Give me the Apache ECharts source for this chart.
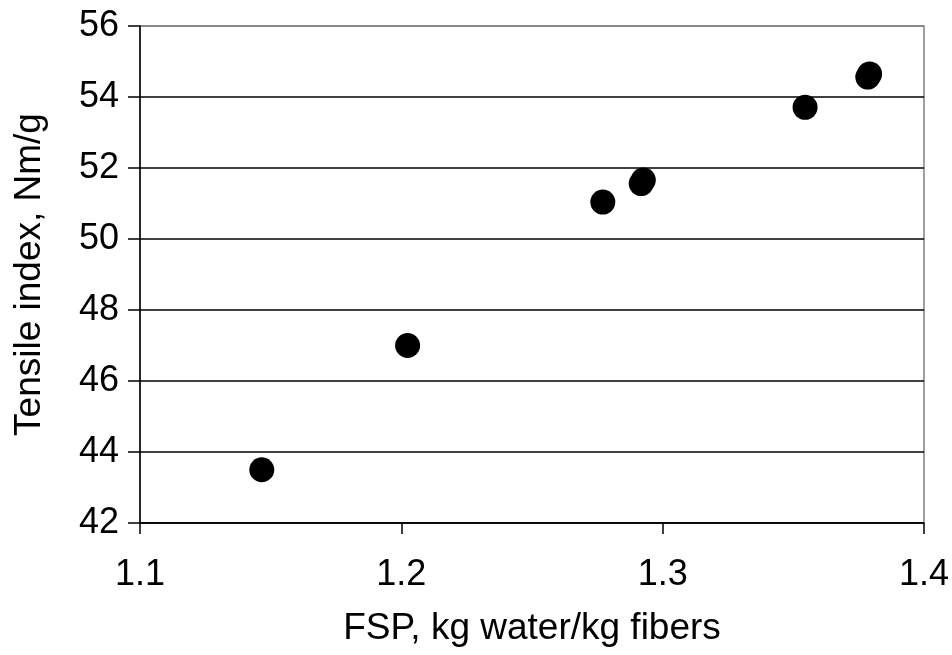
<!DOCTYPE html>
<html>
<head>
<meta charset="utf-8">
<script src="https://cdn.jsdelivr.net/npm/echarts@6/dist/echarts.min.js"></script>
<style>
  html, body { margin: 0; padding: 0; background: #fff; }
  #chart { width: 952px; height: 655px; }
</style>
</head>
<body>
<div id="chart"></div>
<script>
// FSP (kg water/kg fibers) vs tensile index (Nm/g)
var fsp = [1.1466, 1.2024, 1.2771, 1.2918, 1.2926, 1.3545, 1.3785, 1.3792];
var tensile = [43.5, 47.0, 51.04, 51.56, 51.66, 53.71, 54.56, 54.65];

var points = fsp.map(function (x, i) { return [x, tensile[i]]; });

var font = "'Liberation Sans', Arial, sans-serif";
var chart = echarts.init(document.getElementById("chart"));
chart.setOption({
  animation: false,
  backgroundColor: "#fff",
  grid: {
    left: 140,
    right: 26,
    top: 26,
    bottom: 132,
    show: true,
    borderColor: "#808080",
    borderWidth: 1.5
  },
  xAxis: {
    type: "value",
    min: 1.1,
    max: 1.4,
    interval: 0.1,
    name: "FSP, kg water/kg fibers",
    nameLocation: "middle",
    nameGap: 87,
    nameTextStyle: { color: "#000", fontSize: 37, fontFamily: font },
    axisLine: { lineStyle: { color: "#000", width: 1.5 } },
    axisTick: { inside: false, length: 11, lineStyle: { color: "#000", width: 1.5 } },
    axisLabel: {
      color: "#000",
      fontSize: 36,
      fontFamily: font,
      margin: 34,
      formatter: function (v) { return v.toFixed(1); }
    },
    splitLine: { show: false }
  },
  yAxis: {
    type: "value",
    min: 42,
    max: 56,
    interval: 2,
    name: "Tensile index, Nm/g",
    nameLocation: "middle",
    nameGap: 92,
    nameTextStyle: { color: "#000", fontSize: 37, fontFamily: font },
    axisLine: { lineStyle: { color: "#000", width: 1.5 } },
    axisTick: { inside: false, length: 12, lineStyle: { color: "#000", width: 1.5 } },
    axisLabel: { color: "#000", fontSize: 36, fontFamily: font, margin: 21 },
    splitLine: {
      show: true,
      lineStyle: {
        color: ["#000", "#000", "#000", "#000", "#000", "#000", "#000", "#808080"],
        width: 1.5
      }
    }
  },
  series: [
    {
      type: "scatter",
      data: points,
      symbol: "circle",
      symbolSize: 25,
      itemStyle: { color: "#000", opacity: 1 }
    }
  ]
});
</script>
</body>
</html>
